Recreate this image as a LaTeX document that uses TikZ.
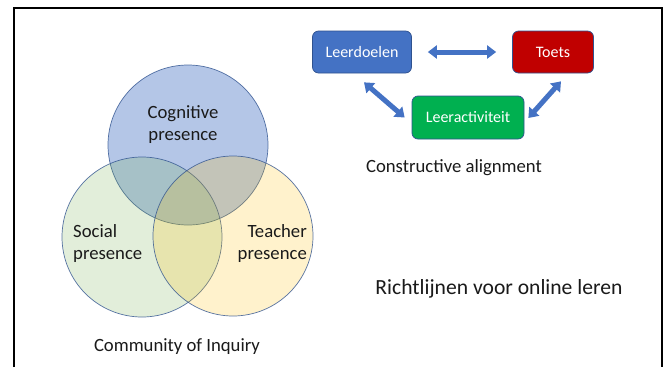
\documentclass[tikz,border=0pt]{standalone}
\usepackage{fontspec}
\setmainfont{Carlito}
\usetikzlibrary{arrows.meta,calc}
\definecolor{cblue}{HTML}{4472C4}
\definecolor{cgreen}{HTML}{70AD47}
\definecolor{cgold}{HTML}{FFC000}
\definecolor{edge}{HTML}{2F528F}
\definecolor{tred}{HTML}{C00000}
\definecolor{lgreen}{HTML}{00B050}
\definecolor{txt}{HTML}{1A1A1A}
\tikzset{
  venn/.style={circle, minimum size=160pt, inner sep=0pt, draw=edge, line width=0.7pt, draw opacity=0.8},
  vlabel/.style={text=txt, font=\fontsize{18.7}{22}\selectfont, inner sep=0pt},
  abox/.style={rounded corners=6pt, draw=edge, line width=0.7pt, text=white, font=\fontsize{16}{19}\selectfont, inner sep=0pt},
  blockarrow/.style={draw=cblue, line width=5pt, {Triangle[width=13pt,length=9pt]}-{Triangle[width=13pt,length=9pt]}},
  caption/.style={text=txt, font=\fontsize{18.7}{22}\selectfont, inner sep=0pt},
}
\begin{document}
\begin{tikzpicture}[x=1pt,y=-1pt]
\useasboundingbox (0,0) rectangle (667,367);
\fill[white] (0,0) rectangle (667,367);
% frame
\draw[line width=2.6pt, black] (14,367) -- (14,8) -- (662,8) -- (662,367);
% Venn
\node[venn, fill=cblue, fill opacity=0.4] (cog) at (188,145) {};
\node[venn, fill=cgreen, fill opacity=0.2] (soc) at (142,237) {};
\node[venn, fill=cgold, fill opacity=0.2] (tea) at (233,236) {};
\node[vlabel, align=center] (cogt) at (183,125) {Cognitive\\presence};
\node[vlabel, align=left, anchor=west] (soct) at (73,244) {Social\\presence};
\node[vlabel, align=right, anchor=east] (teat) at (307,244) {Teacher\\presence};
\node[caption] (coi) at (177,347) {Community of Inquiry};
% constructive alignment
\node[abox, fill=cblue, minimum width=99pt, minimum height=42pt] (ld) at (362,52) {Leerdoelen};
\node[abox, fill=tred, minimum width=81pt, minimum height=42pt] (ts) at (553,52) {Toets};
\node[abox, fill=lgreen, minimum width=112pt, minimum height=43pt] (la) at (468,117.5) {Leeractiviteit};
\draw[blockarrow, shorten <=16pt, shorten >=16pt] (ld.east) -- (ts.west);
\coordinate (ldb) at ($(ld.south)+(2,9)$);
\coordinate (law) at ($(la.west)+(-7,0)$);
\draw[blockarrow] (ldb) -- (law);
\coordinate (tsb) at ($(ts.south)+(8,8)$);
\coordinate (lae) at ($(la.east)+(4,0.5)$);
\draw[blockarrow] (lae) -- (tsb);
\node[caption] (ca) at (454,168) {Constructive alignment};
\node[caption, font=\fontsize{21.6}{25}\selectfont] (rl) at (499,289) {Richtlijnen voor online leren};
\end{tikzpicture}
\end{document}
